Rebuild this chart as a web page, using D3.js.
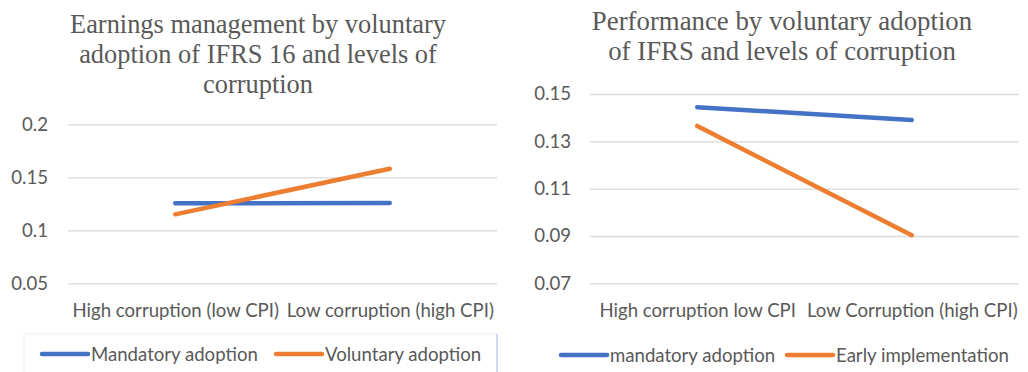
<!DOCTYPE html>
<html>
<head>
<meta charset="utf-8">
<script src="https://cdn.jsdelivr.net/npm/d3@7"></script>
<style>
  html, body { margin: 0; padding: 0; background: #fff; }
  svg { display: block; }
  .tick text { fill: #595959; }
</style>
</head>
<body>
<svg id="chart" width="1028" height="372"></svg>
<script>
// Earnings management panel
const emTitle = ["Earnings management by voluntary", "adoption of IFRS 16 and levels of", "corruption"];
const emCategories = ["High corruption (low CPI)", "Low corruption (high CPI)"];
const emMandatory = [0.1255, 0.1257];
const emVoluntary = [0.115, 0.158];
const emTicks = [0.05, 0.1, 0.15, 0.2];
const emTickLabels = ["0.05", "0.1", "0.15", "0.2"];
const emSeriesNames = ["Mandatory adoption", "Voluntary adoption"];

// Performance panel
const perfTitle = ["Performance by voluntary adoption", "of IFRS and levels of corruption"];
const perfCategories = ["High corruption low CPI", "Low Corruption (high CPI)"];
const perfMandatory = [0.1444, 0.139];
const perfEarly = [0.1365, 0.0903];
const perfTicks = [0.07, 0.09, 0.11, 0.13, 0.15];
const perfTickLabels = ["0.07", "0.09", "0.11", "0.13", "0.15"];
const perfSeriesNames = ["mandatory adoption", "Early implementation"];

const seriesColors = ["#4472C4", "#ED7D31"];
const textColor = "#595959";
const gridColor = "#d9d9d9";
const sansFont = "Lato, 'Open Sans', sans-serif";
const serifFont = "'Liberation Serif', 'Times New Roman', serif";

const svg = d3.select("#chart");

function drawPanel(cfg) {
  const g = svg.append("g");

  // title
  const title = g.append("text")
    .attr("text-anchor", "middle")
    .attr("font-family", serifFont)
    .attr("font-size", cfg.titleSize)
    .attr("fill", textColor);
  cfg.title.forEach((line, i) => {
    title.append("tspan")
      .attr("x", cfg.titleX)
      .attr("y", cfg.titleY + i * 30)
      .text(line);
  });

  const x = d3.scalePoint()
    .domain(cfg.categories)
    .range([cfg.left, cfg.right])
    .padding(0.5);

  const y = d3.scaleLinear()
    .domain(cfg.domain)
    .range([cfg.bottom, cfg.top]);

  // value axis with gridlines
  const yAxis = d3.axisLeft(y)
    .tickValues(cfg.ticks)
    .tickFormat((d, i) => cfg.tickLabels[i])
    .tickSize(-(cfg.right - cfg.left))
    .tickPadding(cfg.labelGap);
  const ya = g.append("g")
    .attr("transform", `translate(${cfg.left},0)`)
    .call(yAxis);
  ya.select(".domain").remove();
  ya.selectAll(".tick line").attr("stroke", gridColor).attr("stroke-width", 1.3);
  ya.selectAll(".tick text")
    .attr("font-family", sansFont)
    .attr("font-size", cfg.axisSize)
    .attr("fill", textColor);

  // category axis
  const xAxis = d3.axisBottom(x).tickSize(0).tickPadding(0);
  const xa = g.append("g")
    .attr("transform", `translate(0,${cfg.bottom})`)
    .call(xAxis);
  xa.select(".domain").remove();
  xa.selectAll(".tick text")
    .attr("y", 27)
    .attr("dy", "0.35em")
    .attr("font-family", sansFont)
    .attr("font-size", cfg.axisSize)
    .attr("fill", textColor);

  // series lines
  const line = d3.line()
    .x((d, i) => x(cfg.categories[i]))
    .y(d => y(d));
  cfg.series.forEach((vals, k) => {
    g.append("path")
      .datum(vals)
      .attr("d", line)
      .attr("fill", "none")
      .attr("stroke", seriesColors[k])
      .attr("stroke-width", 4.5)
      .attr("stroke-linecap", "round");
  });

  // legend
  if (cfg.legendBox) {
    const b = cfg.legendBox;
    g.append("rect")
      .attr("x", b[0]).attr("y", b[1])
      .attr("width", b[2]).attr("height", b[3])
      .attr("fill", "none")
      .attr("stroke", "#eef1f6")
      .attr("stroke-width", 1.2);
    g.append("line")
      .attr("x1", b[0] + b[2]).attr("x2", b[0] + b[2])
      .attr("y1", b[1]).attr("y2", b[1] + b[3])
      .attr("stroke", "#bcd0ee")
      .attr("stroke-width", 1.4);
  }
  cfg.seriesNames.forEach((name, k) => {
    const lx = cfg.legendX[k];
    g.append("line")
      .attr("x1", lx).attr("x2", lx + 46)
      .attr("y1", cfg.legendY).attr("y2", cfg.legendY)
      .attr("stroke", seriesColors[k])
      .attr("stroke-width", 4.5)
      .attr("stroke-linecap", "round");
    g.append("text")
      .attr("x", lx + 49)
      .attr("y", cfg.legendY)
      .attr("dy", "0.35em")
      .attr("font-family", sansFont)
      .attr("font-size", cfg.legendSize)
      .attr("fill", textColor)
      .text(name);
  });
}

drawPanel({
  title: emTitle, titleX: 258, titleY: 33, titleSize: 26.4,
  categories: emCategories,
  series: [emMandatory, emVoluntary],
  seriesNames: emSeriesNames,
  ticks: emTicks, tickLabels: emTickLabels,
  domain: [0.05, 0.2],
  left: 68, right: 497, top: 124.3, bottom: 283.3,
  labelGap: 20, axisSize: 18.6, legendSize: 18.6,
  legendX: [42, 276], legendY: 354,
  legendBox: [24, 334, 473, 60]
});

drawPanel({
  title: perfTitle, titleX: 782, titleY: 30, titleSize: 26.8,
  categories: perfCategories,
  series: [perfMandatory, perfEarly],
  seriesNames: perfSeriesNames,
  ticks: perfTicks, tickLabels: perfTickLabels,
  domain: [0.07, 0.15],
  left: 590, right: 1019, top: 94, bottom: 283.3,
  labelGap: 19, axisSize: 18.6, legendSize: 18.6,
  legendX: [561, 787], legendY: 355,
  legendBox: null
});
</script>
</body>
</html>
